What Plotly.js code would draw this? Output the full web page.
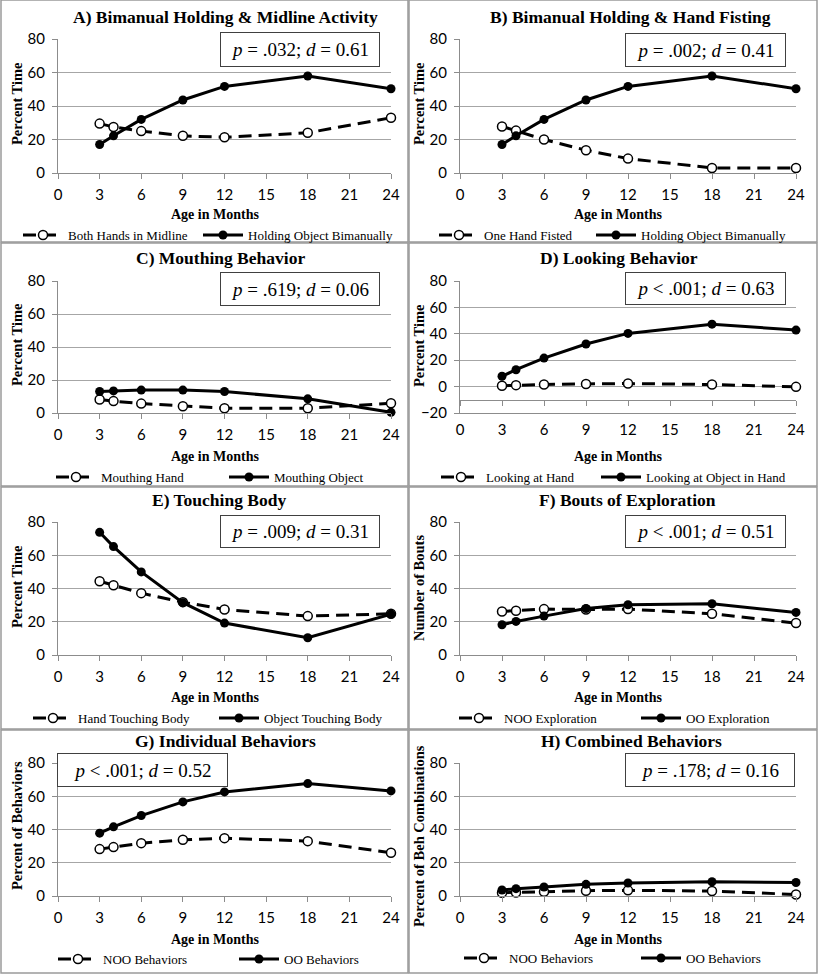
<!DOCTYPE html>
<html lang="en">
<head>
    <meta charset="UTF-8">
    <title>Infant Object Exploration by Age</title>
    <script src="https://cdn.plot.ly/plotly-3.0.1.min.js"></script>
    <style>
        body { margin: 0; background: #fff; }
        #chart { width: 818px; height: 974px; }
    </style>
</head>
<body>
    <div id="chart"></div>

    <script>
        // Age in months (x values shared by every panel)
        const ages = [3, 4, 6, 9, 12, 18, 24];

        // A) Bimanual holding & midline activity
        const bothHandsMidline = [29.5, 27.5, 25, 22.2, 21.3, 24, 33];
        const holdingBimanual = [17, 22.2, 32, 43.6, 51.7, 57.9, 50.3];
        // B) Hand fisting
        const oneHandFisted = [27.8, 25.3, 20, 13.6, 8.6, 3, 3];
        // C) Mouthing
        const mouthingHand = [8.2, 7.2, 5.7, 4.1, 2.9, 2.9, 5.9];
        const mouthingObject = [13, 13.4, 13.9, 13.9, 13, 8.6, 0.4];
        // D) Looking
        const lookingHand = [0.6, 1.1, 1.6, 2, 2.3, 1.6, -0.2];
        const lookingObject = [7.8, 12.8, 21.6, 32.3, 40.3, 47.3, 42.8];
        // E) Touching body
        const handTouchingBody = [44.4, 42, 37.2, 31.8, 27.4, 23.4, 24.8];
        const objectTouchingBody = [73.8, 65.2, 50, 31.5, 19.2, 10.4, 24.6];
        // F) Bouts of exploration
        const nooExploration = [26.2, 26.6, 27.6, 27.4, 27.6, 24.8, 19.2];
        const ooExploration = [18.2, 20.2, 23.4, 28, 30.2, 30.8, 25.6];
        // G) Individual behaviors
        const nooBehaviors = [28.2, 29.4, 31.8, 33.8, 34.8, 33, 26];
        const ooBehaviors = [37.8, 41.6, 48.4, 56.6, 62.6, 67.6, 63.2];
        // H) Combined behaviors
        const nooCombined = [2, 2.1, 2.6, 3.2, 3.4, 3, 0.9];
        const ooCombined = [3.6, 4.4, 5.4, 7, 7.8, 8.6, 8.1];

        const titles = [
            'A) Bimanual Holding &amp; Midline Activity',
            'B) Bimanual Holding &amp; Hand Fisting',
            'C) Mouthing Behavior',
            'D) Looking Behavior',
            'E) Touching Body',
            'F) Bouts of Exploration',
            'G) Individual Behaviors',
            'H) Combined Behaviors'
        ];
        const yTitles = ['Percent Time', 'Percent Time', 'Percent Time', 'Percent Time',
            'Percent Time', 'Number of Bouts', 'Percent of Behaviors', 'Percent of Beh Combinations'];
        const stats = [
            '<i>p</i> = .032; <i>d</i> = 0.61',
            '<i>p</i> = .002; <i>d</i> = 0.41',
            '<i>p</i> = .619; <i>d</i> = 0.06',
            '<i>p</i> &lt; .001; <i>d</i> = 0.63',
            '<i>p</i> = .009; <i>d</i> = 0.31',
            '<i>p</i> &lt; .001; <i>d</i> = 0.51',
            '<i>p</i> &lt; .001; <i>d</i> = 0.52',
            '<i>p</i> = .178; <i>d</i> = 0.16'
        ];
        const dashedNames = ['Both Hands in Midline', 'One Hand Fisted', 'Mouthing Hand', 'Looking at Hand',
            'Hand Touching Body', 'NOO Exploration', 'NOO Behaviors', 'NOO Behaviors'];
        const solidNames = ['Holding Object Bimanually', 'Holding Object Bimanually', 'Mouthing Object',
            'Looking at Object in Hand', 'Object Touching Body', 'OO Exploration', 'OO Behaviors', 'OO Behaviors'];
        const dashedSeries = [bothHandsMidline, oneHandFisted, mouthingHand, lookingHand,
            handTouchingBody, nooExploration, nooBehaviors, nooCombined];
        const solidSeries = [holdingBimanual, holdingBimanual, mouthingObject, lookingObject,
            objectTouchingBody, ooExploration, ooBehaviors, ooCombined];
        const yMins = [0, 0, 0, -20, 0, 0, 0, 0];

        // ---- page geometry (pixels) ----
        const W = 818, H = 974;
        const fx = px => px / W;
        const fy = py => 1 - py / H;

        const cols = [[58, 391], [460, 796]];
        const rows = [[39, 173], [281, 413], [522, 655], [763, 896]];
        const frames = [[0, 242], [243, 486], [487, 729], [730, 973]];

        // per panel placement: title, stat box [x0,x1,y0,y1], axis title y, legend y, legend text starts
        const place = [
            { tx: 225, ty: 17, box: [220, 380, 32, 67], ay: 215, ly: 235, lt: [67, 247], yt: 104 },
            { tx: 630, ty: 17, box: [625, 786, 33, 67], ay: 215, ly: 235, lt: [483, 640], yt: 104 },
            { tx: 220, ty: 258, box: [220, 380, 272, 306], ay: 457, ly: 477, lt: [100, 273], yt: 345 },
            { tx: 619, ty: 258, box: [625, 786, 272, 305], ay: 457, ly: 477, lt: [485, 645], yt: 346 },
            { tx: 219, ty: 500, box: [220, 380, 515, 548], ay: 697, ly: 718, lt: [77, 263], yt: 587 },
            { tx: 627, ty: 500, box: [625, 786, 515, 548], ay: 697, ly: 718, lt: [503, 685], yt: 588 },
            { tx: 225, ty: 741, box: [57, 228, 753, 787], ay: 939, ly: 959, lt: [102, 283], yt: 826 },
            { tx: 631, ty: 741, box: [625, 795, 753, 787], ay: 939, ly: 958, lt: [508, 685], yt: 836 }
        ];

        const serif = 'Liberation Serif, Times New Roman, serif';
        const sans = 'Lato, Noto Sans, sans-serif';
        const gridGray = '#a6a6a6';
        const axisGray = '#8c8c8c';

        const traces = [];
        const layout = {
            width: W,
            height: H,
            showlegend: true,
            margin: { l: 0, r: 0, t: 0, b: 0, autoexpand: false },
            paper_bgcolor: '#fff',
            plot_bgcolor: 'rgba(0,0,0,0)',
            annotations: [],
            shapes: []
        };

        function addLegend(id, textStart, y) {
            layout[id] = {
                orientation: 'h',
                x: fx(textStart - 49), y: fy(y),
                xanchor: 'left', yanchor: 'middle',
                itemwidth: 40,
                bgcolor: 'rgba(0,0,0,0)',
                font: { family: serif, size: 13, color: '#000' }
            };
        }

        titles.forEach((title, i) => {
            const n = i + 1;
            const col = cols[i % 2];
            const row = rows[Math.floor(i / 2)];
            const p = place[i];
            const xa = 'x' + n, ya = 'y' + n;
            const legDashed = i === 0 ? 'legend' : 'legend' + (2 * i + 1);
            const legSolid = 'legend' + (2 * i + 2);

            traces.push({
                x: ages, y: dashedSeries[i], name: dashedNames[i],
                xaxis: xa, yaxis: ya, legend: legDashed, showlegend: true,
                mode: 'lines+markers', cliponaxis: false,
                line: { color: '#000', width: 3, dash: '13px,7px' },
                marker: { symbol: 'circle', size: 9, color: '#fff', line: { color: '#000', width: 1.5 } }
            });
            traces.push({
                x: ages, y: solidSeries[i], name: solidNames[i],
                xaxis: xa, yaxis: ya, legend: legSolid, showlegend: true,
                mode: 'lines+markers', cliponaxis: false,
                line: { color: '#000', width: 3 },
                marker: { symbol: 'circle', size: 9, color: '#000' }
            });
            addLegend(legDashed, p.lt[0], p.ly);
            addLegend(legSolid, p.lt[1], p.ly);

            layout['xaxis' + n] = {
                domain: [fx(col[0]), fx(col[1])],
                anchor: ya,
                range: [0, 24], tick0: 0, dtick: 3,
                showgrid: false, zeroline: false,
                showline: true, linecolor: axisGray, linewidth: 1,
                ticks: yMins[i] < 0 ? '' : 'outside', ticklen: 5, tickcolor: axisGray,
                ticklabelstandoff: 3,
                tickfont: { family: sans, size: 15, color: '#000' },
                fixedrange: true
            };
            layout['yaxis' + n] = {
                domain: [fy(row[1]), fy(row[0])],
                anchor: xa,
                range: [yMins[i], 80], tick0: 0, dtick: 20,
                showgrid: true, gridcolor: gridGray, gridwidth: 1, zeroline: false,
                showline: true, linecolor: axisGray, linewidth: 1,
                ticks: 'outside', ticklen: 5, tickcolor: axisGray,
                ticklabelstandoff: 4,
                tickfont: { family: sans, size: 15, color: '#000' },
                fixedrange: true
            };

            // panel title
            layout.annotations.push({
                xref: 'paper', yref: 'paper', x: fx(p.tx), y: fy(p.ty),
                xanchor: 'center', yanchor: 'middle', showarrow: false,
                text: '<b>' + title + '</b>',
                font: { family: serif, size: 17.5, color: '#000' }
            });
            // stats box
            const b = p.box;
            layout.annotations.push({
                xref: 'paper', yref: 'paper', x: fx((b[0] + b[1]) / 2), y: fy((b[2] + b[3]) / 2),
                xanchor: 'center', yanchor: 'middle', showarrow: false,
                width: b[1] - b[0] - 4, height: b[3] - b[2] - 4, borderpad: 1,
                bordercolor: '#404040', borderwidth: 1, bgcolor: '#fff',
                text: stats[i],
                font: { family: serif, size: 19, color: '#000' }
            });
            // x axis title
            layout.annotations.push({
                xref: 'paper', yref: 'paper', x: fx((col[0] + col[1]) / 2 - 10), y: fy(p.ay),
                xanchor: 'center', yanchor: 'middle', showarrow: false,
                text: '<b>Age in Months</b>',
                font: { family: serif, size: 14, color: '#000' }
            });
            // y axis title
            layout.annotations.push({
                xref: 'paper', yref: 'paper', x: fx(col[0] - 41), y: fy(p.yt),
                xanchor: 'center', yanchor: 'middle', showarrow: false, textangle: -90,
                text: '<b>' + yTitles[i] + '</b>',
                font: { family: serif, size: 14.5, color: '#000' }
            });
            // panel frame
            const fr = frames[Math.floor(i / 2)];
            layout.shapes.push({
                type: 'rect', xref: 'paper', yref: 'paper',
                x0: fx(i % 2 === 0 ? 1 : 409), x1: fx(i % 2 === 0 ? 408 : 817),
                y0: fy(fr[1]), y1: fy(fr[0]),
                line: { color: '#9a9a9a', width: 1.5 }
            });
        });

        // Panel D: horizontal axis crosses at -10 with its own tick marks
        const dRow = rows[1];
        const crossPx = dRow[1] - (dRow[1] - dRow[0]) * (-10 - yMins[3]) / (80 - yMins[3]);
        layout.xaxis9 = {
            overlaying: 'x4', anchor: 'free', position: fy(crossPx),
            range: [0, 24], tick0: 0, dtick: 3,
            showgrid: false, zeroline: false,
            showline: true, linecolor: axisGray, linewidth: 1,
            ticks: 'outside', ticklen: 5, tickcolor: axisGray,
            showticklabels: false, fixedrange: true
        };
        traces.push({ x: [], y: [], xaxis: 'x9', yaxis: 'y4', showlegend: false, hoverinfo: 'skip' });

        Plotly.newPlot('chart', traces, layout, { displayModeBar: false, staticPlot: true });
    </script>
</body>
</html>
